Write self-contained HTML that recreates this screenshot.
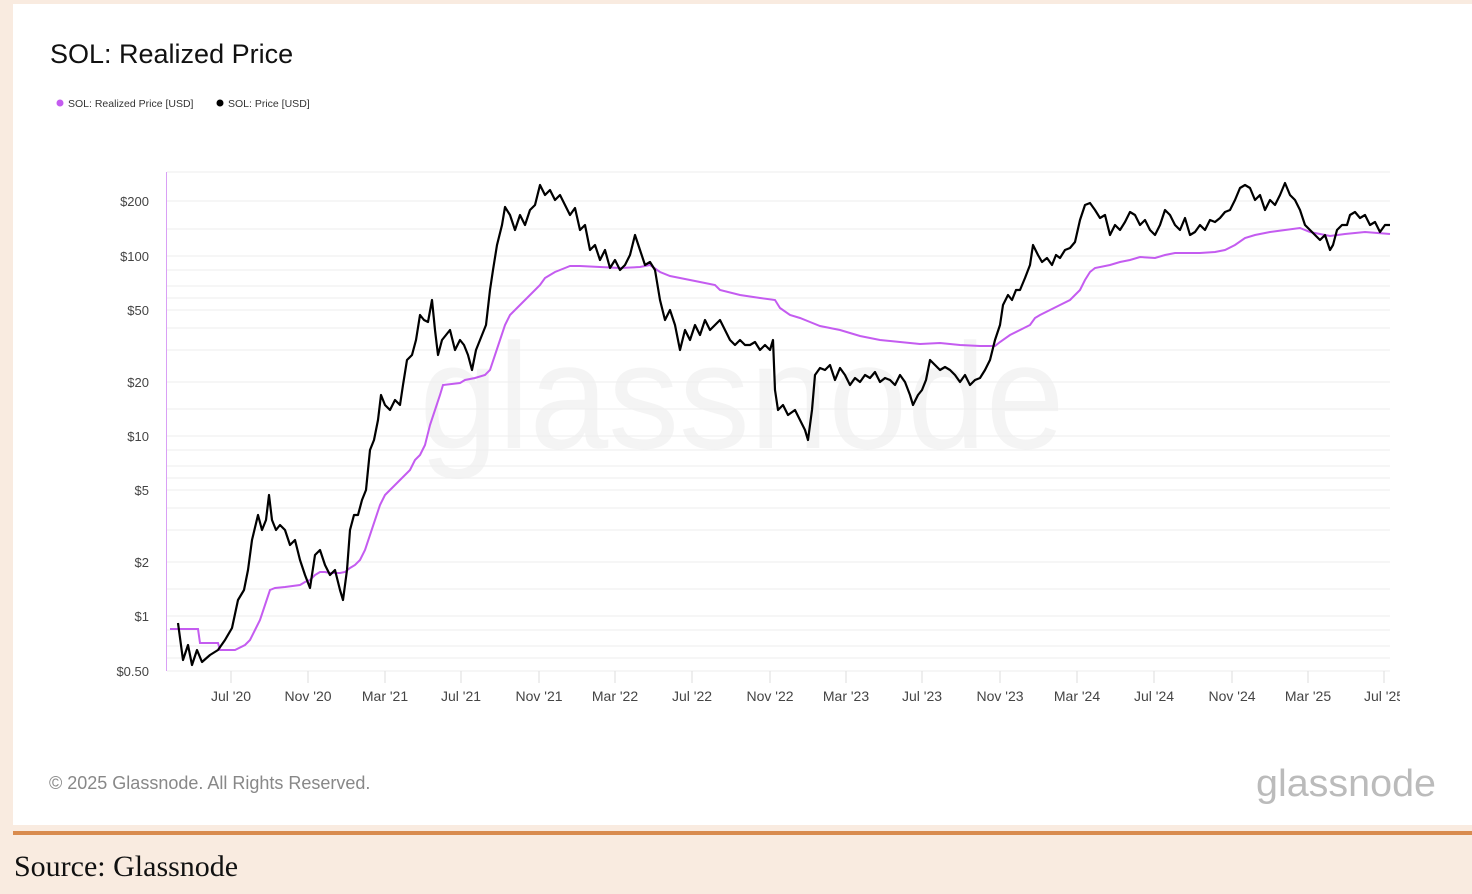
<!DOCTYPE html>
<html><head><meta charset="utf-8"><style>
html,body{margin:0;padding:0;}
body{width:1472px;height:894px;background:#f9ebe0;position:relative;overflow:hidden;font-family:"Liberation Sans",sans-serif;}
#card{position:absolute;left:13px;top:4px;width:1459px;height:821px;background:#fff;}
#rule{position:absolute;left:13px;top:831px;width:1459px;height:4px;background:#d98b4e;}
#src{position:absolute;left:14px;top:850px;font-family:"Liberation Serif",serif;font-size:30px;color:#111;}
</style></head><body>
<div id="card"></div>
<div id="rule"></div>
<div id="src">Source: Glassnode</div>
<svg width="1472" height="894" style="position:absolute;left:0;top:0" font-family="Liberation Sans, sans-serif">
<defs><clipPath id="cp"><rect x="0" y="0" width="1400" height="894"/></clipPath></defs>
<text x="50" y="63" font-size="27" fill="#111">SOL: Realized Price</text>
<circle cx="60" cy="103" r="3.5" fill="#c45cf0"/><text x="68" y="107" font-size="10.5" fill="#333">SOL: Realized Price [USD]</text>
<circle cx="220" cy="103" r="3.5" fill="#000"/><text x="228" y="107" font-size="10.5" fill="#333">SOL: Price [USD]</text>
<text x="742" y="448" font-size="150" fill="#000" fill-opacity="0.045" text-anchor="middle" textLength="645" lengthAdjust="spacingAndGlyphs">glassnode</text>
<g stroke="#eee" stroke-width="1">
<line x1="167" x2="1390" y1="172" y2="172"/>
<line x1="167" x2="1390" y1="201" y2="201"/><line x1="167" x2="1390" y1="229" y2="229"/><line x1="167" x2="1390" y1="256" y2="256"/>
<line x1="167" x2="1390" y1="270" y2="270"/><line x1="167" x2="1390" y1="286" y2="286"/><line x1="167" x2="1390" y1="298" y2="298"/><line x1="167" x2="1390" y1="310" y2="310"/><line x1="167" x2="1390" y1="328" y2="328"/><line x1="167" x2="1390" y1="350" y2="350"/>
<line x1="167" x2="1390" y1="382" y2="382"/><line x1="167" x2="1390" y1="409" y2="409"/><line x1="167" x2="1390" y1="436" y2="436"/>
<line x1="167" x2="1390" y1="450" y2="450"/><line x1="167" x2="1390" y1="466" y2="466"/><line x1="167" x2="1390" y1="478" y2="478"/><line x1="167" x2="1390" y1="490" y2="490"/><line x1="167" x2="1390" y1="508" y2="508"/><line x1="167" x2="1390" y1="530" y2="530"/>
<line x1="167" x2="1390" y1="562" y2="562"/><line x1="167" x2="1390" y1="589" y2="589"/><line x1="167" x2="1390" y1="616" y2="616"/>
<line x1="167" x2="1390" y1="630" y2="630"/><line x1="167" x2="1390" y1="646" y2="646"/><line x1="167" x2="1390" y1="658" y2="658"/><line x1="167" x2="1390" y1="671" y2="671"/>
</g>
<line x1="166.5" x2="166.5" y1="172" y2="671" stroke="#d9a0f5"/>
<g stroke="#ddd"><line x1="231" x2="231" y1="671" y2="683"/><line x1="308" x2="308" y1="671" y2="683"/><line x1="385" x2="385" y1="671" y2="683"/><line x1="461" x2="461" y1="671" y2="683"/><line x1="539" x2="539" y1="671" y2="683"/><line x1="615" x2="615" y1="671" y2="683"/><line x1="692" x2="692" y1="671" y2="683"/><line x1="770" x2="770" y1="671" y2="683"/><line x1="846" x2="846" y1="671" y2="683"/><line x1="922" x2="922" y1="671" y2="683"/><line x1="1000" x2="1000" y1="671" y2="683"/><line x1="1077" x2="1077" y1="671" y2="683"/><line x1="1154" x2="1154" y1="671" y2="683"/><line x1="1232" x2="1232" y1="671" y2="683"/><line x1="1308" x2="1308" y1="671" y2="683"/><line x1="1384" x2="1384" y1="671" y2="683"/></g>
<g font-size="13" fill="#444" text-anchor="end">
<text x="149" y="206">$200</text><text x="149" y="261">$100</text><text x="149" y="315">$50</text><text x="149" y="387">$20</text><text x="149" y="441">$10</text><text x="149" y="495">$5</text><text x="149" y="567">$2</text><text x="149" y="621">$1</text><text x="149" y="676">$0.50</text>
</g>
<g font-size="14" fill="#444" text-anchor="middle" clip-path="url(#cp)">
<text x="231" y="701">Jul '20</text><text x="308" y="701">Nov '20</text><text x="385" y="701">Mar '21</text><text x="461" y="701">Jul '21</text><text x="539" y="701">Nov '21</text><text x="615" y="701">Mar '22</text><text x="692" y="701">Jul '22</text><text x="770" y="701">Nov '22</text><text x="846" y="701">Mar '23</text><text x="922" y="701">Jul '23</text><text x="1000" y="701">Nov '23</text><text x="1077" y="701">Mar '24</text><text x="1154" y="701">Jul '24</text><text x="1232" y="701">Nov '24</text><text x="1308" y="701">Mar '25</text><text x="1384" y="701">Jul '25</text>
</g>
<polyline fill="none" stroke="#c45cf0" stroke-width="2" points="170,629 198,629 200,643 218,643 220,650 235,650 245,645 250,640 255,630 260,620 265,605 270,590 275,588 285,587 300,585 305,582 310,580 315,575 320,572 325,572 330,573 340,573 345,572 350,568 355,565 360,560 365,550 370,535 375,520 380,505 385,495 390,490 395,485 400,480 405,475 410,470 415,460 420,455 425,445 430,425 435,410 440,395 443,385 460,383 465,380 475,378 485,375 490,370 495,355 500,340 505,325 510,315 515,310 520,305 525,300 530,295 535,290 540,285 545,278 550,275 555,272 560,270 565,268 570,266 580,266 600,267 620,268 640,267 650,265 660,272 670,276 680,278 700,282 715,285 720,290 740,295 760,298 775,300 780,308 790,315 800,318 810,322 820,326 840,330 860,336 880,340 900,342 920,344 940,343 960,345 980,346 995,346 1000,342 1010,335 1020,330 1030,325 1035,318 1040,315 1050,310 1060,305 1070,300 1080,290 1085,280 1090,272 1095,268 1110,265 1120,262 1130,260 1140,257 1155,258 1165,255 1175,253 1200,253 1215,252 1225,250 1235,245 1245,238 1255,235 1270,232 1285,230 1300,228 1310,232 1330,236 1345,234 1365,232 1390,234"/>
<polyline fill="none" stroke="#000" stroke-width="2.2" stroke-linejoin="round" points="178,623 183,660 188,645 192,665 197,650 202,662 210,655 218,650 225,640 232,628 238,600 244,590 248,570 252,540 258,515 262,530 266,520 269,495 272,520 276,530 280,525 285,530 290,545 295,540 300,560 305,575 310,588 315,555 320,550 325,565 330,575 335,570 340,590 343,600 347,570 350,530 354,515 358,515 362,500 366,490 370,450 374,440 378,420 381,395 385,405 390,410 395,400 400,405 403,385 407,360 412,355 416,340 420,315 424,320 428,322 432,300 435,330 438,355 442,340 446,335 450,330 455,350 460,340 464,345 468,355 472,370 476,350 480,340 486,325 490,290 493,270 497,245 502,225 505,207 510,215 515,230 520,215 525,225 530,210 535,205 540,185 545,195 550,190 555,200 560,195 565,205 570,215 575,208 580,230 585,225 590,250 595,245 600,260 605,250 610,268 615,260 620,270 625,265 630,255 635,235 640,250 645,265 650,262 655,270 660,300 665,320 670,310 675,325 680,350 685,330 690,340 695,325 700,335 705,320 710,330 715,325 720,320 725,330 730,340 735,345 740,340 745,345 750,345 755,342 760,350 765,345 770,350 773,340 775,390 778,410 783,405 788,415 795,410 800,420 805,430 808,440 812,410 815,375 820,368 825,370 830,365 835,380 840,368 845,375 850,385 855,378 860,382 865,375 870,378 875,372 880,382 885,378 890,380 895,385 900,375 905,382 910,395 913,405 918,395 922,390 926,380 930,360 935,365 940,370 945,367 950,370 955,375 960,382 965,375 970,385 975,380 980,378 985,370 990,360 995,340 1000,325 1003,305 1008,295 1012,300 1016,290 1020,290 1025,278 1030,265 1033,245 1038,255 1042,262 1047,258 1052,265 1056,255 1060,258 1065,250 1070,248 1075,242 1080,220 1085,205 1090,203 1095,210 1100,218 1105,215 1110,235 1115,225 1120,230 1125,222 1130,212 1135,215 1140,225 1145,220 1150,230 1155,235 1160,225 1165,210 1170,215 1175,225 1180,230 1185,218 1190,235 1195,232 1200,225 1205,230 1210,220 1215,222 1220,218 1225,212 1230,210 1235,200 1240,188 1245,185 1250,188 1255,200 1260,195 1265,210 1270,200 1275,205 1280,195 1285,183 1290,195 1295,200 1300,210 1305,225 1310,230 1315,235 1320,240 1325,235 1330,250 1333,245 1337,230 1342,225 1347,225 1350,215 1355,212 1360,218 1365,215 1370,225 1375,222 1380,232 1385,225 1390,225"/>
<text x="49" y="789" font-size="18" fill="#888">© 2025 Glassnode. All Rights Reserved.</text>
<text x="1436" y="796" font-size="38" fill="#bbb" text-anchor="end" textLength="180" lengthAdjust="spacingAndGlyphs">glassnode</text>
</svg>
</body></html>
